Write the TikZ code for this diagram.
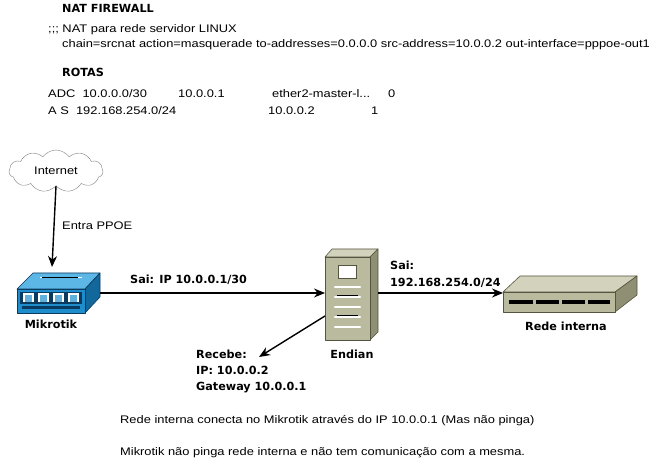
\documentclass[tikz,border=0pt]{standalone}
\usepackage{fontspec}
\setmainfont{Liberation Sans}[FakeStretch=1.17]
\newfontfamily\lblfont{DejaVu Sans}
\usetikzlibrary{arrows.meta,shapes.symbols}
\definecolor{mkfront}{HTML}{1E8DCB}
\definecolor{mktop}{HTML}{5CB6E6}
\definecolor{mkright}{HTML}{12689A}
\definecolor{mkdark}{HTML}{0B3A60}
\definecolor{kfront}{HTML}{BABA9E}
\definecolor{ktop}{HTML}{D3D3BD}
\definecolor{kright}{HTML}{8F8F74}
\definecolor{kedge}{HTML}{55553F}
\tikzset{
  txt/.style={anchor=base west, inner sep=0pt, font=\fontsize{11}{13}\selectfont},
  lbl/.style={anchor=base west, inner sep=0pt, font=\lblfont\bfseries\fontsize{11.2}{14}\selectfont},
  lblc/.style={anchor=base, inner sep=0pt, font=\lblfont\bfseries\fontsize{11.2}{14}\selectfont},
  conn/.style={line width=1.4pt, -{Stealth[length=11pt,width=9pt]}},
  face/.style={draw=kedge, line width=0.6pt, line join=round},
  mkface/.style={draw=mkdark, line width=0.6pt, line join=round},
  slot/.style={draw=white, line width=2.2pt, line cap=round},
}
\begin{document}
\begin{tikzpicture}[x=1pt,y=-1pt]
\useasboundingbox[fill=white] (0,0) rectangle (657,462);

% ---- header texts
\node[lbl] (natfw) at (62,12.5) {NAT FIREWALL};
\node[txt] (natc) at (48,33) {;;; NAT para rede servidor LINUX};
\node[txt] (chain) at (62,48) {chain=srcnat action=masquerade to-addresses=0.0.0.0 src-address=10.0.0.2 out-interface=pppoe-out1};
\node[lbl] (rotas) at (62,77) {ROTAS};
\node[txt] (r1a) at (48,98) {ADC\ \ 10.0.0.0/30};
\node[txt] (r1b) at (178,98) {10.0.0.1};
\node[txt] (r1c) at (272,98) {ether2-master-l...};
\node[txt] (r1d) at (388,98) {0};
\node[txt] (r2a) at (48,115) {A S\ \ 192.168.254.0/24};
\node[txt] (r2b) at (268,115) {10.0.0.2};
\node[txt] (r2d) at (371,115) {1};

% ---- Internet cloud
\node[cloud, cloud puffs=11, cloud puff arc=110, aspect=2.4, draw=gray, fill=white,
      minimum width=94pt, minimum height=42pt, inner sep=0pt,
      font=\fontsize{11}{13}\selectfont] (inet) at (56,171) {Internet};

% ---- Mikrotik switch
\fill[mktop, mkface] (17,289) -- (33,273) -- (100,273) -- (85,289) -- cycle;
\draw[white, line width=1pt] (40,278) -- (82,278);
\draw[black, line width=0.6pt] (42,277.5) -- (78,277.5);
\fill[mkright, mkface] (85,289) -- (100,273) -- (100,297) -- (85,313) -- cycle;
\fill[mkfront, mkface] (17,289) rectangle (85,313);
\fill[mkdark] (20,292) rectangle (82,304);
\foreach \i in {0,1,2,3} {
  \fill[white] (22.5+\i*15,293.5) rectangle (34+\i*15,302.5);
  \fill[mkfront!70] (24.5+\i*15,295.5) rectangle (32+\i*15,302.5);
}
\fill[mkdark] (22,306) rectangle (80,309.5);
\coordinate (mktopc) at (52,267);
\coordinate (mkright) at (100,293);
\node[lblc] (mklabel) at (51,329) {Mikrotik};

% ---- Endian server
\fill[ktop, face] (325,257) -- (332,249) -- (378,249) -- (370,257) -- cycle;
\fill[kright, face] (370,257) -- (378,249) -- (378,332) -- (370,340) -- cycle;
\fill[kfront, face] (325,257) rectangle (370,340);
\fill[white, draw=kedge, line width=0.5pt] (338,265) rectangle (356,278);
\foreach \yy in {287,297,307,317,327} {
  \draw[slot] (335,\yy) -- (360,\yy);
}
\draw[black, line width=0.8pt] (337,295) -- (358,295);
\draw[black, line width=0.8pt] (337,315.5) -- (358,315.5);
\coordinate (enleft) at (325,293);
\coordinate (enright) at (378,293);
\coordinate (enside) at (325,316);
\node[lblc] (enlabel) at (352,359) {Endian};

% ---- Rede interna
\fill[ktop, face] (503,292) -- (520,276) -- (637,276) -- (615,292) -- cycle;
\fill[kright, face] (615,292) -- (637,276) -- (637,295) -- (615,312) -- cycle;
\fill[kfront, face] (503,292) rectangle (615,312);
\foreach \xa/\xb in {509/533, 536/559, 562/585, 588/610} {
  \fill[black] (\xa,300) rectangle (\xb,304);
}
\coordinate (rileft) at (503,293);
\node[lblc] (rilabel) at (566,331) {Rede interna};

% ---- connectors
\draw[conn] (inet.south) -- (mktopc);
\node[txt] (entra) at (62,230) {Entra PPOE};
\draw[conn] (mkright) -- (enleft);
\node[lbl] (sai1) at (130,284) {Sai: IP 10.0.0.1/30};
\draw[conn] (enright) -- (rileft);
\node[lbl] (sai2) at (390,270) {Sai:};
\node[lbl] (sai2b) at (390,287) {192.168.254.0/24};
\coordinate (recv) at (259,357);
\draw[conn] (enside) -- (recv);
\node[lbl] (rec1) at (196,359) {Recebe:};
\node[lbl] (rec2) at (196,375) {IP: 10.0.0.2};
\node[lbl] (rec3) at (196,391) {Gateway 10.0.0.1};

% ---- bottom notes
\node[txt] (note1) at (120,424) {Rede interna conecta no Mikrotik através do IP 10.0.0.1 (Mas não pinga)};
\node[txt] (note2) at (120,456) {Mikrotik não pinga rede interna e não tem comunicação com a mesma.};
\end{tikzpicture}
\end{document}
